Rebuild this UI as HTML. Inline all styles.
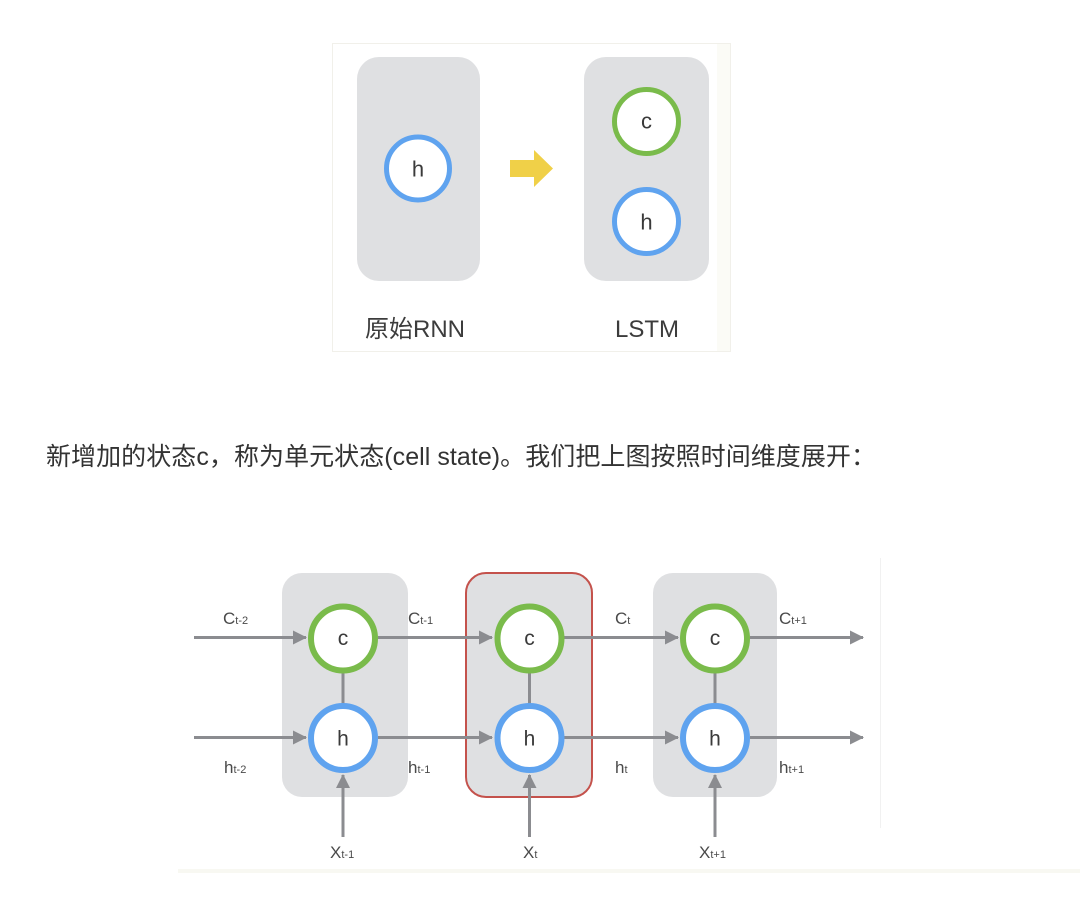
<!DOCTYPE html>
<html>
<head>
<meta charset="utf-8">
<style>
html,body{margin:0;padding:0;background:#ffffff;}
body{width:1080px;height:906px;overflow:hidden;position:relative;}
svg{position:absolute;left:0;top:0;}
</style>
</head>
<body>
<svg width="1080" height="906" viewBox="0 0 1080 906" xmlns="http://www.w3.org/2000/svg">
  <defs>
    <marker id="ah" markerWidth="14" markerHeight="14" refX="13" refY="7" orient="auto" markerUnits="userSpaceOnUse">
      <path d="M0,0 L14,7 L0,14 Z" fill="#8b8c90"/>
    </marker>
  </defs>

  <!-- ===== Top image ===== -->
  <rect x="332.5" y="43.5" width="398" height="308" fill="#ffffff" stroke="#f1f0ea" stroke-width="1"/>
  <rect x="717" y="44" width="13" height="307" fill="#fbfbf6"/>

  <rect x="357" y="57" width="123" height="224" rx="22" ry="22" fill="#dfe0e2"/>
  <rect x="584" y="57" width="125" height="224" rx="22" ry="22" fill="#dfe0e2"/>

  <circle cx="418" cy="168.5" r="31.5" fill="#ffffff" stroke="#5fa3ef" stroke-width="5"/>
  <text x="418" y="176.5" font-family="Liberation Sans, sans-serif" font-size="22" fill="#3a3a3a" text-anchor="middle">h</text>

  <circle cx="646.5" cy="121.5" r="32" fill="#ffffff" stroke="#7abb4b" stroke-width="5"/>
  <text x="646.5" y="128.5" font-family="Liberation Sans, sans-serif" font-size="22" fill="#3a3a3a" text-anchor="middle">c</text>

  <circle cx="646.5" cy="221.5" r="32" fill="#ffffff" stroke="#5fa3ef" stroke-width="5"/>
  <text x="646.5" y="229.5" font-family="Liberation Sans, sans-serif" font-size="22" fill="#3a3a3a" text-anchor="middle">h</text>

  <polygon points="510,160 534,160 534,150 553,168.5 534,187 534,177 510,177" fill="#f0d048"/>

  <text x="365" y="337" font-family="Liberation Sans, 'Noto Sans CJK SC', sans-serif" font-size="24" fill="#3c3c3c">原始RNN</text>
  <text x="615" y="337" font-family="Liberation Sans, sans-serif" font-size="24" fill="#3c3c3c">LSTM</text>

  <!-- ===== Paragraph ===== -->
  <text x="46" y="465" font-family="'Liberation Sans', 'Noto Sans CJK SC', sans-serif" font-size="25" fill="#333333" textLength="830" lengthAdjust="spacing">新增加的状态c，称为单元状态(cell state)。我们把上图按照时间维度展开：</text>

  <!-- ===== Bottom diagram ===== -->
  <line x1="880.5" y1="558" x2="880.5" y2="828" stroke="#f1f1f1" stroke-width="1"/>
  <rect x="178" y="869" width="902" height="4" fill="#f8f8f2"/>

  <rect x="282" y="573" width="126" height="224" rx="20" ry="20" fill="#dfe0e2"/>
  <rect x="466" y="573" width="126" height="224" rx="20" ry="20" fill="#dfe0e2" stroke="#c4524c" stroke-width="2"/>
  <rect x="653" y="573" width="124" height="224" rx="20" ry="20" fill="#dfe0e2"/>

  <g stroke="#8b8c90" stroke-width="3" fill="none">
    <line x1="194" y1="637.5" x2="306" y2="637.5" marker-end="url(#ah)"/>
    <line x1="378" y1="637.5" x2="492" y2="637.5" marker-end="url(#ah)"/>
    <line x1="564" y1="637.5" x2="678" y2="637.5" marker-end="url(#ah)"/>
    <line x1="750" y1="637.5" x2="863" y2="637.5" marker-end="url(#ah)"/>
    <line x1="194" y1="737.5" x2="306" y2="737.5" marker-end="url(#ah)"/>
    <line x1="378" y1="737.5" x2="492" y2="737.5" marker-end="url(#ah)"/>
    <line x1="564" y1="737.5" x2="678" y2="737.5" marker-end="url(#ah)"/>
    <line x1="750" y1="737.5" x2="863" y2="737.5" marker-end="url(#ah)"/>
    <line x1="343" y1="672" x2="343" y2="704"/>
    <line x1="529.5" y1="672" x2="529.5" y2="704"/>
    <line x1="715" y1="672" x2="715" y2="704"/>
    <line x1="343" y1="837" x2="343" y2="775" marker-end="url(#ah)"/>
    <line x1="529.5" y1="837" x2="529.5" y2="775" marker-end="url(#ah)"/>
    <line x1="715" y1="837" x2="715" y2="775" marker-end="url(#ah)"/>
  </g>

  <g stroke-width="6" fill="#ffffff">
    <circle cx="343" cy="638.5" r="32" stroke="#7abb4b"/>
    <circle cx="529.5" cy="638.5" r="32" stroke="#7abb4b"/>
    <circle cx="715" cy="638.5" r="32" stroke="#7abb4b"/>
    <circle cx="343" cy="738" r="32" stroke="#5fa3ef"/>
    <circle cx="529.5" cy="738" r="32" stroke="#5fa3ef"/>
    <circle cx="715" cy="738" r="32" stroke="#5fa3ef"/>
  </g>
  <g font-family="Liberation Sans, sans-serif" font-size="21" fill="#3a3a3a" text-anchor="middle">
    <text x="343" y="645">c</text>
    <text x="529.5" y="645">c</text>
    <text x="715" y="645">c</text>
    <text x="343" y="745.5">h</text>
    <text x="529.5" y="745.5">h</text>
    <text x="715" y="745.5">h</text>
  </g>

  <g font-family="Liberation Sans, sans-serif" font-size="17" fill="#4a4a4a">
    <text x="223" y="624">C<tspan font-size="11">t-2</tspan></text>
    <text x="408" y="624">C<tspan font-size="11">t-1</tspan></text>
    <text x="615" y="624">C<tspan font-size="11">t</tspan></text>
    <text x="779" y="624">C<tspan font-size="11">t+1</tspan></text>
    <text x="224" y="773">h<tspan font-size="11">t-2</tspan></text>
    <text x="408" y="773">h<tspan font-size="11">t-1</tspan></text>
    <text x="615" y="773">h<tspan font-size="11">t</tspan></text>
    <text x="779" y="773">h<tspan font-size="11">t+1</tspan></text>
    <text x="330" y="858">X<tspan font-size="11">t-1</tspan></text>
    <text x="523" y="858">X<tspan font-size="11">t</tspan></text>
    <text x="699" y="858">X<tspan font-size="11">t+1</tspan></text>
  </g>
</svg>
</body>
</html>
